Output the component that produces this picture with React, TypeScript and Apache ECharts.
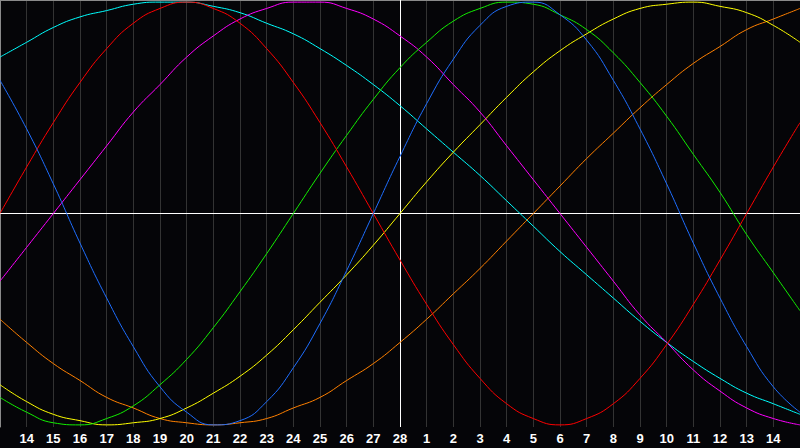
import React, { useEffect, useRef } from "react";
import * as echarts from "echarts";

// Day labels: index 0 and 30 are the (unlabelled) edges of the window
const days = [
  "13", "14", "15", "16", "17", "18", "19", "20", "21", "22", "23", "24", "25", "26", "27", "28",
  "1", "2", "3", "4", "5", "6", "7", "8", "9", "10", "11", "12", "13", "14", "15",
];

// Cycle values in percent (-100 .. 100), one per day
const blue = [63, 40, 14, -14, -40, -63, -82, -94, -100, -98, -89, -73, -52, -27, 0, 27, 52, 73, 89, 98, 100, 94, 82, 63, 40, 14, -14, -40, -63, -82, -94];
const red = [0, 22, 43, 62, 78, 90, 97, 100, 97, 90, 78, 62, 43, 22, 0, -22, -43, -62, -78, -90, -97, -100, -97, -90, -78, -62, -43, -22, 0, 22, 43];
const green = [-87, -94, -99, -100, -97, -91, -81, -69, -54, -37, -19, 0, 19, 37, 54, 69, 81, 91, 97, 100, 99, 94, 87, 76, 62, 46, 28, 10, -10, -28, -46];
const magenta = [-32, -16, 0, 16, 32, 48, 61, 74, 84, 92, 97, 100, 100, 97, 92, 84, 74, 61, 48, 32, 16, 0, -16, -32, -48, -61, -74, -84, -92, -97, -100];
const yellow = [-81, -89, -95, -98, -100, -99, -97, -92, -85, -77, -67, -55, -42, -29, -15, 0, 15, 29, 42, 55, 67, 77, 85, 92, 97, 99, 100, 98, 95, 89, 81];
const orange = [-50, -61, -71, -79, -87, -92, -97, -99, -100, -99, -97, -92, -87, -79, -71, -61, -50, -38, -26, -13, 0, 13, 26, 38, 50, 61, 71, 79, 87, 92, 97];
const cyan = [74, 81, 88, 93, 96, 99, 100, 100, 98, 95, 90, 85, 78, 70, 61, 51, 40, 29, 18, 6, -6, -18, -29, -40, -51, -61, -70, -78, -85, -90, -95];

const seriesList = [
  { name: "Spiritual", data: cyan, color: "#00ffff" },
  { name: "Awareness", data: orange, color: "#ff8000" },
  { name: "Aesthetic", data: yellow, color: "#ffff00" },
  { name: "Intuitive", data: magenta, color: "#ff00ff" },
  { name: "Intellectual", data: green, color: "#11ee00" },
  { name: "Emotional", data: red, color: "#ff0000" },
  { name: "Physical", data: blue, color: "#1e6eff" },
];

export default function App() {
  const ref = useRef<HTMLDivElement>(null);

  useEffect(() => {
    document.body.style.margin = "0";
    const chart = echarts.init(ref.current!, null, { renderer: "svg" });
    const centerIndex = 15;
    chart.setOption({
      animation: false,
      backgroundColor: "#050508",
      grid: { left: 0, right: 0, top: 0, bottom: 21, containLabel: false },
      xAxis: [
        {
          type: "category",
          data: days,
          boundaryGap: false,
          axisLine: { show: true, lineStyle: { color: "#8a8a8a", width: 1 } },
          axisTick: { show: false },
          axisLabel: {
            interval: (i: number) => i > 0 && i < days.length - 1,
            color: "#ffffff",
            fontFamily: "Liberation Sans",
            fontWeight: "bold",
            fontSize: 13,
            margin: 5,
          },
          splitLine: { show: true, interval: 0, lineStyle: { color: "#333333", width: 1 } },
        },
        {
          type: "category",
          data: days,
          boundaryGap: false,
          position: "top",
          axisLine: { show: true, lineStyle: { color: "#8a8a8a", width: 1 } },
          axisTick: { show: false },
          axisLabel: { show: false },
          splitLine: { show: false },
        },
      ],
      yAxis: {
        type: "value",
        min: -101,
        max: 101,
        axisLine: { show: true, lineStyle: { color: "#8a8a8a", width: 1 } },
        axisTick: { show: false },
        axisLabel: { show: false },
        splitLine: { show: false },
      },
      series: seriesList.map((s, idx) => ({
        type: "line",
        name: s.name,
        data: s.data,
        xAxisIndex: 0,
        smooth: true,
        showSymbol: false,
        symbol: "none",
        clip: false,
        lineStyle: { color: s.color, width: 1 },
        itemStyle: { color: s.color },
        z: 3,
        markLine:
          idx === 0
            ? {
                silent: true,
                symbol: "none",
                label: { show: false },
                lineStyle: { color: "#ffffff", width: 1, type: "solid" },
                data: [{ xAxis: centerIndex }, { yAxis: 0 }],
                z: 2,
              }
            : undefined,
      })),
    });
    return () => chart.dispose();
  }, []);

  return (
    <div
      ref={ref}
      style={{ position: "fixed", left: 0, top: 0, width: 800, height: 448 }}
    />
  );
}
